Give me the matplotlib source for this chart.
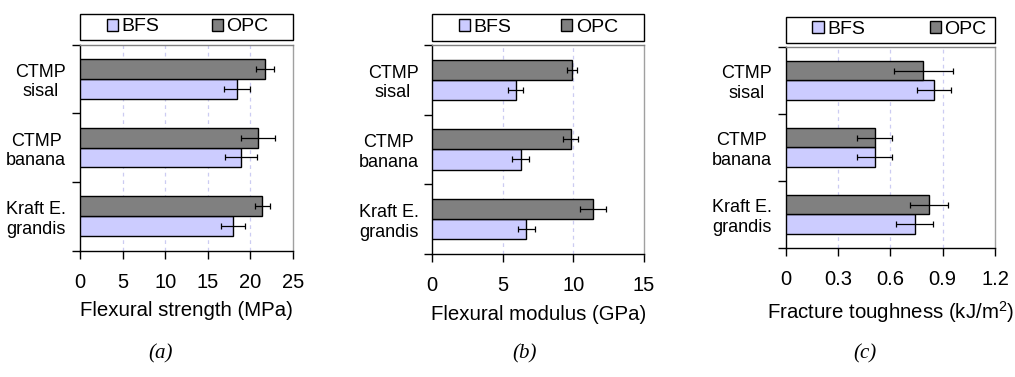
import matplotlib
matplotlib.use("Agg")
import matplotlib.pyplot as plt
from matplotlib.patches import Rectangle
import numpy as np

plt.rcParams['font.family'] = ['Liberation Sans', 'DejaVu Sans']
plt.rcParams['mathtext.fontset'] = 'custom'
plt.rcParams['mathtext.rm'] = 'Liberation Sans'

# categories, top to bottom in the picture
categories = ["CTMP\nsisal", "CTMP\nbanana", "Kraft E.\ngrandis"]
series = ["BFS", "OPC"]

# (a) flexural strength, MPa
strength_bfs = [18.4, 18.9, 18.0]
strength_bfs_err = [1.5, 1.9, 1.4]
strength_opc = [21.7, 20.9, 21.4]
strength_opc_err = [1.1, 2.0, 0.9]

# (b) flexural modulus, GPa
modulus_bfs = [5.9, 6.25, 6.65]
modulus_bfs_err = [0.55, 0.6, 0.6]
modulus_opc = [9.9, 9.8, 11.4]
modulus_opc_err = [0.38, 0.55, 0.9]

# (c) fracture toughness, kJ/m2
toughness_bfs = [0.85, 0.51, 0.74]
toughness_bfs_err = [0.1, 0.1, 0.105]
toughness_opc = [0.79, 0.51, 0.82]
toughness_opc_err = [0.17, 0.1, 0.11]

panels = [
    dict(bfs=strength_bfs, bfs_err=strength_bfs_err, opc=strength_opc, opc_err=strength_opc_err,
         xticks=[0, 5, 10, 15, 20, 25], ticklabels=['0', '5', '10', '15', '20', '25'],
         xlabel='Flexural strength (MPa)', tag='(a)', colspace=2.7,
         rect=[80 / 1015, 1 - 250.5 / 377, 213 / 1015, 206 / 377], tagx=161 / 1015),
    dict(bfs=modulus_bfs, bfs_err=modulus_bfs_err, opc=modulus_opc, opc_err=modulus_opc_err,
         xticks=[0, 5, 10, 15], ticklabels=['0', '5', '10', '15'],
         xlabel='Flexural modulus (GPa)', tag='(b)', colspace=2.55,
         rect=[432.3 / 1015, 1 - 253.7 / 377, 211.7 / 1015, 208.7 / 377], tagx=525 / 1015),
    dict(bfs=toughness_bfs, bfs_err=toughness_bfs_err, opc=toughness_opc, opc_err=toughness_opc_err,
         xticks=[0, 0.3, 0.6, 0.9, 1.2], ticklabels=['0', '0.3', '0.6', '0.9', '1.2'],
         xlabel='Fracture toughness (kJ/m$^\\mathregular{2}$)', tag='(c)', colspace=3.35,
         rect=[785.7 / 1015, 1 - 248 / 377, 209.3 / 1015, 201.3 / 377], tagx=865 / 1015),
]

fig = plt.figure(figsize=(10.15, 3.77), dpi=100)

y = np.arange(len(categories))[::-1]  # sisal on top
h = 0.29
ekw = dict(ecolor='black', elinewidth=0.9, capsize=2.5, capthick=0.9)

for p in panels:
    ax = fig.add_axes(p['rect'])
    ax.barh(y - h / 2, p['bfs'], height=h, color='#CCCCFF', edgecolor='black', linewidth=1,
            xerr=p['bfs_err'], error_kw=ekw, label='BFS', zorder=3)
    ax.barh(y + h / 2, p['opc'], height=h, color='#808080', edgecolor='black', linewidth=1,
            xerr=p['opc_err'], error_kw=ekw, label='OPC', zorder=3)

    ax.set_xlim(p['xticks'][0], p['xticks'][-1])
    ax.set_ylim(-0.5, len(categories) - 0.5)
    ax.set_xticks(p['xticks'])
    ax.set_xticklabels(p['ticklabels'], fontsize=14.5)
    ax.tick_params(axis='x', direction='out', length=6, width=1, pad=10, colors='black')

    # category separators as major ticks, labels on minor ticks
    ax.set_yticks(np.arange(-0.5, len(categories), 1.0))
    ax.set_yticklabels([])
    ax.set_yticks(y, minor=True)
    ax.set_yticklabels(categories, minor=True, fontsize=13, ha='right', multialignment='center')
    ax.tick_params(axis='y', which='major', direction='out', length=6, width=1)
    ax.tick_params(axis='y', which='minor', length=0, pad=10)

    for xt in p['xticks'][1:-1]:
        ax.axvline(xt, color='#CCCCF2', linestyle=(0, (3, 3)), linewidth=0.9, zorder=1)

    ax.spines['left'].set_color('black')
    ax.spines['bottom'].set_color('black')
    ax.spines['top'].set_color('#808080')
    ax.spines['right'].set_color('#A0A0A0')
    for s in ax.spines.values():
        s.set_linewidth(1)

    ax.set_xlabel(p['xlabel'], fontsize=14.7, labelpad=7)

    # legend box across the full axes width
    ax.add_patch(Rectangle((0, 1.02), 1, 0.13, transform=ax.transAxes, fill=False,
                           edgecolor='black', linewidth=1, clip_on=False))
    ax.legend(loc='center left', bbox_to_anchor=(0.128, 1.02, 0.8, 0.13), ncol=2,
              frameon=False, fontsize=14, borderpad=0, borderaxespad=0, columnspacing=p['colspace'],
              handlelength=0.57, handleheight=0.57, handletextpad=0.17)

    fig.text(p['tagx'], 1 - 354 / 377, p['tag'], ha='center', va='center', fontsize=15,
             family='Liberation Serif', style='italic')

fig.savefig('out.png', dpi=100)
